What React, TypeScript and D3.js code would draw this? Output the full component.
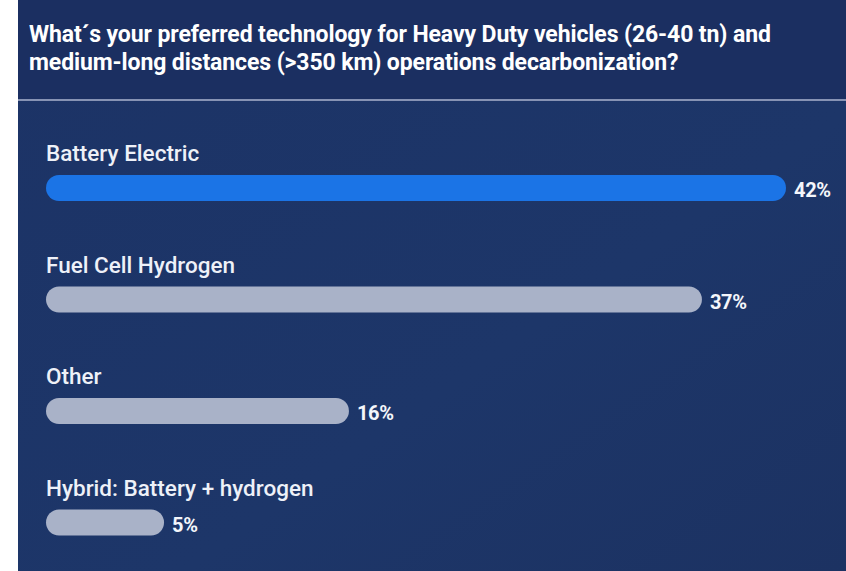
import React from "react";
import * as d3 from "d3";

const titleLines = [
  "What´s your preferred technology for Heavy Duty vehicles (26-40 tn) and",
  "medium-long distances (>350 km) operations decarbonization?",
];
const categories = [
  "Battery Electric",
  "Fuel Cell Hydrogen",
  "Other",
  "Hybrid: Battery + hydrogen",
];
const values = [42, 37, 16, 5];
const highlighted = [true, false, false, false];

const W = 846;
const H = 571;

export default function App() {
  const x = d3.scaleLinear().domain([0, 42]).range([34, 740]);
  const y = d3
    .scaleBand<string>()
    .domain(categories)
    .range([130, 576])
    .paddingInner(0)
    .paddingOuter(0);
  const barH = 26;
  const font = "Roboto, 'Noto Sans', sans-serif";

  return (
    <div style={{ position: "absolute", left: 0, top: 0 }}>
      <svg width={W} height={H} style={{ display: "block" }}>
        <defs>
          <linearGradient id="bg" x1="0" y1="0" x2="1" y2="1">
            <stop offset="0" stopColor="#1c3366" />
            <stop offset="0.6" stopColor="#1d3669" />
            <stop offset="1" stopColor="#1c3262" />
          </linearGradient>
        </defs>
        <rect x={0} y={0} width={W} height={H} fill="#ffffff" />
        <rect x={18} y={0} width={W - 18} height={H} fill="url(#bg)" />
        <rect x={18} y={0} width={W - 18} height={99} fill="#1b2f61" />
        <rect x={18} y={99} width={W - 18} height={2} fill="#8793b4" />
        {titleLines.map((t, i) => (
          <text
            key={i}
            x={29}
            y={42 + i * 28}
            fill="#ffffff"
            fontFamily={font}
            fontWeight={700}
            fontSize={23}
            letterSpacing={-0.1}
          >
            {t}
          </text>
        ))}
        {categories.map((c, i) => {
          const top = (y(c) as number) + 45;
          const w = x(values[i]);
          return (
            <g key={c}>
              <text
                x={46}
                y={(y(c) as number) + 31}
                fill="#eef1f8"
                fontFamily={font}
                fontWeight={500}
                fontSize={22.5}
              >
                {c}
              </text>
              <rect
                x={46}
                y={top}
                width={w}
                height={barH}
                rx={barH / 2}
                fill={highlighted[i] ? "#1b74e6" : "#a9b2c8"}
              />
              <text
                x={46 + w + 8}
                y={top + 22}
                fill="#f4f6fb"
                fontFamily={font}
                fontWeight={700}
                fontSize={20}
                letterSpacing={-0.3}
              >
                {values[i]}%
              </text>
            </g>
          );
        })}
      </svg>
    </div>
  );
}
